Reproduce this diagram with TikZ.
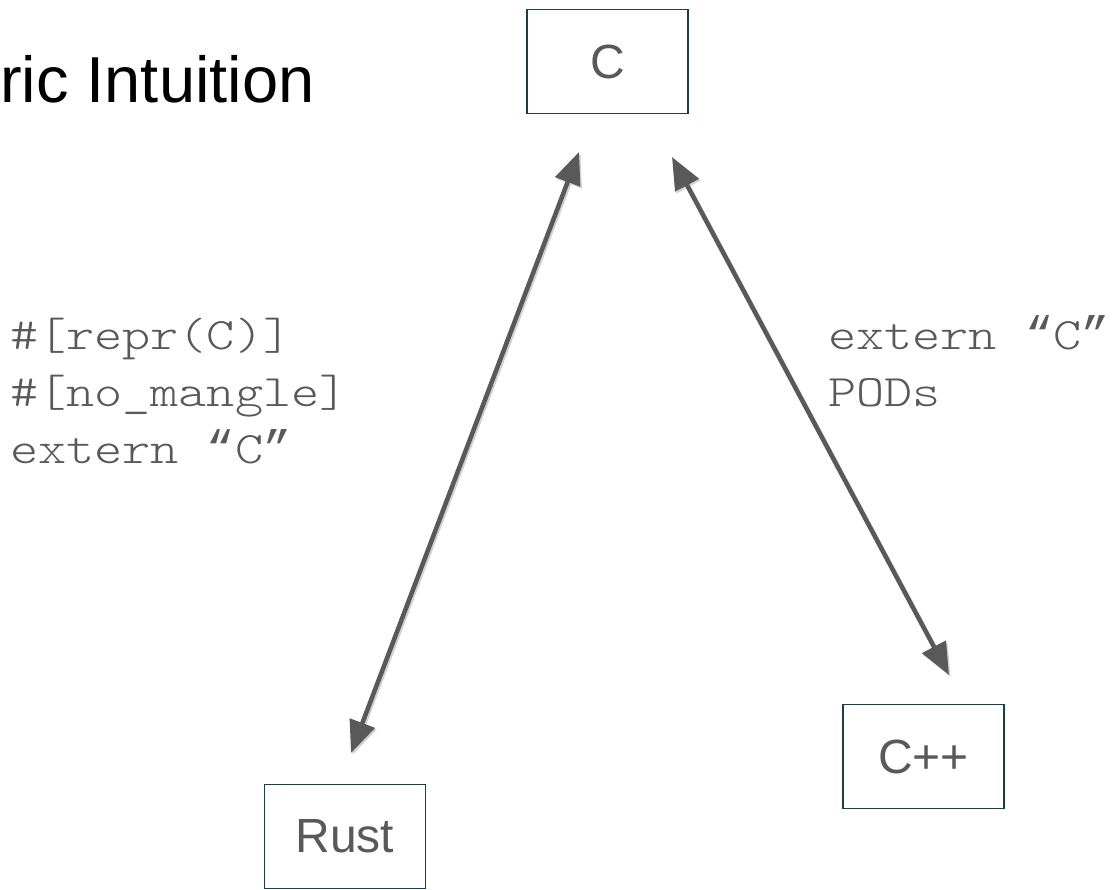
\documentclass[tikz,border=0pt]{standalone}
\usepackage{fontspec}
\setmainfont{Liberation Sans}
\newfontfamily\codefont[FakeStretch=1.19]{lmmonolt10-regular.otf}
\newfontfamily\quotefont{Liberation Mono}
\newcommand{\qglyph}[1]{{\quotefont\fontsize{46.8}{57}\selectfont #1}}
\usetikzlibrary{arrows.meta}
\definecolor{boxline}{HTML}{1C3F47}
\definecolor{txtgray}{HTML}{595959}
\definecolor{arrowgray}{HTML}{595959}
\begin{document}
\begin{tikzpicture}[x=1pt,y=-1pt,
  langbox/.style={draw=boxline, line width=1.8pt, fill=white, minimum width=161pt, minimum height=104pt, inner sep=0pt, text=txtgray, font=\fontsize{48}{58}\selectfont},
  codetext/.style={anchor=base west, inner sep=0pt, text=txtgray, font=\codefont\fontsize{45}{57}\selectfont},
  link/.style={draw=arrowgray, line width=4.5pt, {Triangle[length=32pt,width=26pt]}-{Triangle[length=32pt,width=26pt]}},
  linkshadow/.style={link, draw=black!18, transform canvas={xshift=1.5pt, yshift=-1.8pt}}
]
\fill[white] (0,0) rectangle (1120,890);
\useasboundingbox (0,0) rectangle (1120,890);

\node[anchor=base west, inner sep=0pt, font=\fontsize{65}{78}\selectfont] (title) at (0,103) {ric Intuition};

\node[langbox] (c) at (607.5,61.5) {C};
\node[langbox] (rust) at (345,836.5) {Rust};
\node[langbox] (cpp) at (923.5,756.5) {C++};

\coordinate (rustend) at (351,753);
\coordinate (cend1) at (579,152);
\coordinate (cend2) at (672,157);
\coordinate (cppend) at (949,675);

\draw[linkshadow] (rustend) -- (cend1);
\draw[linkshadow] (cend2) -- (cppend);
\draw[link] (rustend) -- (cend1);
\draw[link] (cend2) -- (cppend);

\node[codetext] (l1) at (10,350) {\#[repr(C)]};
\node[codetext] (l2) at (10,407) {\#[no\_mangle]};
\node[codetext] (l3) at (10,464) {extern \qglyph{“}C\qglyph{”}};
\node[codetext] (r1) at (828,350) {extern \qglyph{“}C\qglyph{”}};
\node[codetext] (r2) at (828,407) {PODs};
\end{tikzpicture}
\end{document}
